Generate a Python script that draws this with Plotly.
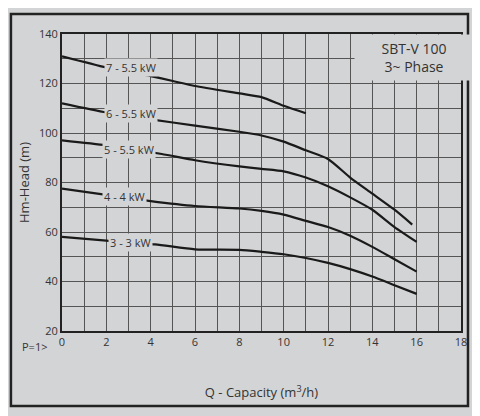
import plotly.graph_objects as go

x7 = [0, 2, 4, 5, 6, 8, 9, 10, 11]
y7 = [131, 126.5, 123, 121, 119, 116, 114.5, 111, 108]
x6 = [0, 2, 4, 6, 8, 9, 10, 11, 12, 13, 14, 15, 15.8]
y6 = [112, 108.3, 105.5, 103, 100.5, 99, 96.5, 93, 89.5, 82, 75.5, 69, 63]
x5 = [0, 2, 4.5, 6, 8, 9, 10, 11, 12, 13, 14, 15, 16]
y5 = [97, 95, 91.5, 89, 86.5, 85.5, 84.5, 82, 78.5, 74, 69, 62, 56]
x4 = [0, 2, 4, 6, 8, 9, 10, 11, 12, 13, 14, 15, 16]
y4 = [77.5, 75, 72.5, 70.5, 69.5, 68.5, 67, 64.5, 62, 58.5, 54, 49, 44]
x3 = [0, 2, 4.2, 6, 8, 9, 10, 11, 12, 13, 14, 15, 16]
y3 = [58, 56.5, 55, 53, 52.8, 52, 51, 49.5, 47.5, 45, 42, 38.5, 35]
labels = ["7 - 5.5 kW", "6 - 5.5 kW", "5 - 5.5 kW", "4 - 4 kW", "3 - 3 kW"]
label_x = [3.1, 3.1, 3.0, 2.8, 3.1]
label_y = [126.5, 107.8, 93.3, 74.5, 55.8]

BG = "#d3d4d5"
GRID = "#555"
fig = go.Figure()
for xs, ys in [(x7, y7), (x6, y6), (x5, y5), (x4, y4), (x3, y3)]:
    fig.add_trace(go.Scatter(x=xs, y=ys, mode="lines",
                             line=dict(color="#1a1a1a", width=2.2, shape="spline", smoothing=0.6),
                             showlegend=False))
for t, lx, ly in zip(labels, label_x, label_y):
    fig.add_annotation(x=lx, y=ly, text=t, showarrow=False, bgcolor=BG,
                       font=dict(family="Open Sans", size=11, color="#333"), borderpad=1)
fig.add_annotation(x=15.9, y=130.5, text="SBT-V 100<br>3~ Phase", showarrow=False, bgcolor=BG,
                   font=dict(family="Open Sans", size=14, color="#333"), borderpad=4, width=110)
fig.add_annotation(xref="paper", yref="paper", x=-0.03, y=-0.02, text="P=1>", showarrow=False,
                   xanchor="right", yanchor="top", font=dict(family="Open Sans", size=11, color="#333"))
fig.add_shape(type="rect", xref="paper", yref="paper", x0=-0.128, x1=1.0175, y0=-0.2525, y1=1.067,
              line=dict(color="#222", width=2.5), fillcolor="rgba(0,0,0,0)", layer="above")
fig.update_layout(
    width=480, height=416, margin=dict(l=54, r=27, t=26, b=93, autoexpand=False),
    paper_bgcolor=BG, plot_bgcolor=BG,
    font=dict(family="Open Sans", size=11, color="#333"),
    xaxis=dict(range=[0, 18], tickmode="linear", tick0=0, dtick=2, showgrid=True, gridcolor=GRID, gridwidth=1,
               showline=True, linecolor="#222", linewidth=2, mirror=True, zeroline=False, automargin=False,
               minor=dict(tickmode="linear", tick0=0, dtick=1, showgrid=True, gridcolor=GRID, gridwidth=1),
               title=dict(text="Q - Capacity (m<sup>3</sup>/h)", standoff=40)),
    yaxis=dict(range=[20, 140], tickmode="linear", tick0=20, dtick=20, showgrid=True, gridcolor=GRID, gridwidth=1,
               showline=True, linecolor="#222", linewidth=2, mirror=True, zeroline=False, automargin=False,
               minor=dict(tickmode="linear", tick0=20, dtick=10, showgrid=True, gridcolor=GRID, gridwidth=1),
               title=dict(text="Hm-Head (m)", standoff=6)),
)
fig.write_html("out.html")
